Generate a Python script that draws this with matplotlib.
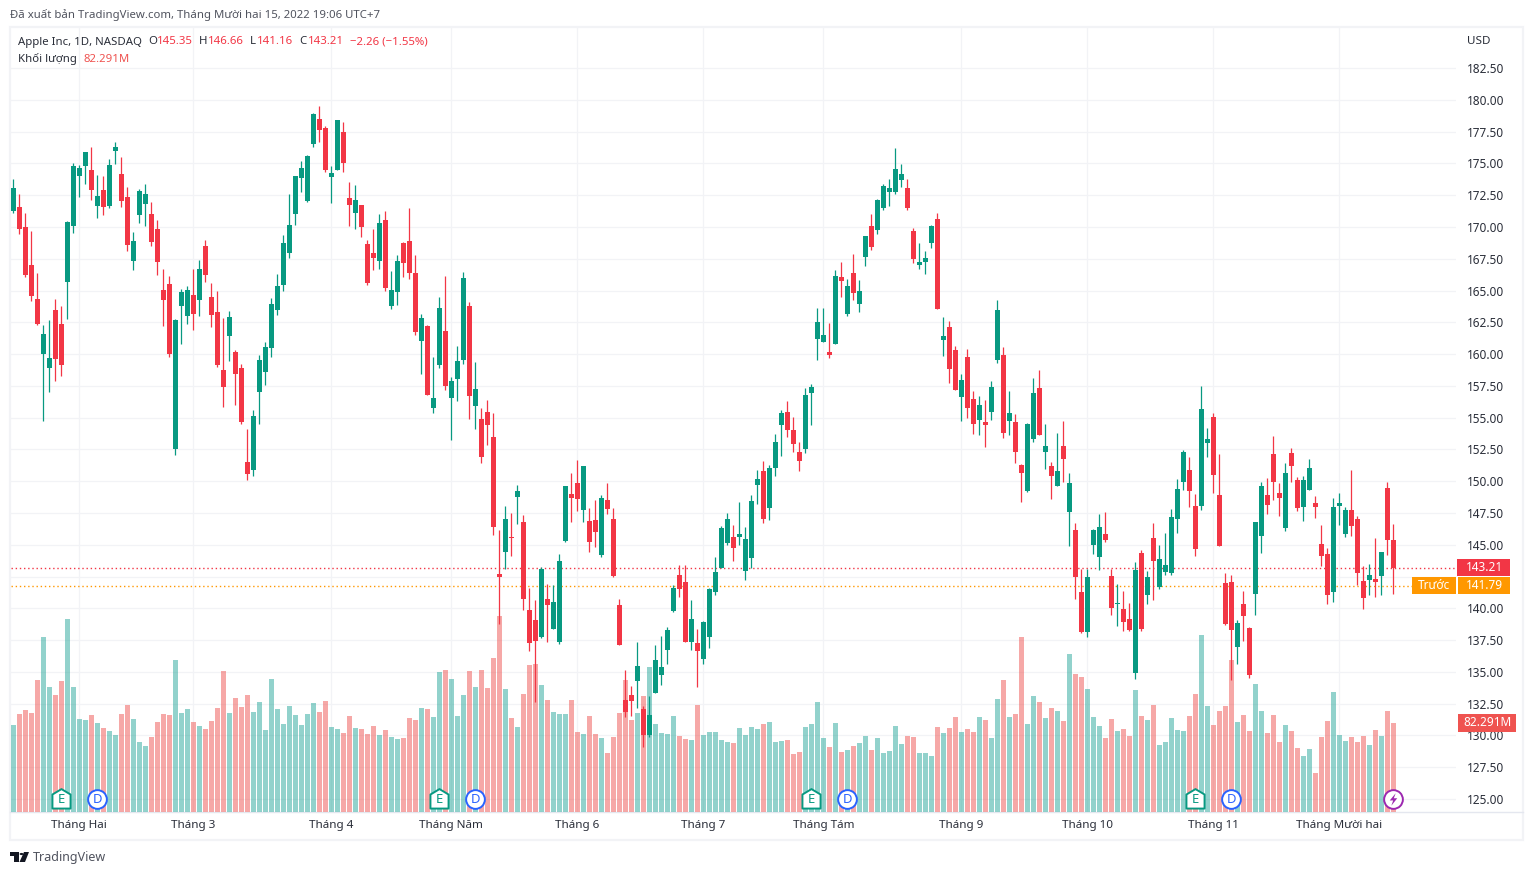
# -*- coding: utf-8 -*-
import numpy as np
import matplotlib.pyplot as plt
from matplotlib.patches import Rectangle, Polygon, Circle
from matplotlib.path import Path

plt.rcParams['font.family'] = ['Noto Sans', 'DejaVu Sans']

W = 1533
H = 875

up = '#089981'
down = '#f23645'
up_v = '#26a69a'
down_v = '#ef5350'
grid_c = '#f2f3f6'
dark = '#2a2e39'

# open, high, low, close
ohlc = [
[171.29,173.80,171.13,173.07],[171.57,172.62,169.48,169.82],[170.00,171.13,166.05,166.20],[167.04,169.71,164.17,164.55],
[164.37,166.41,162.30,162.35],[160.00,162.33,154.73,161.59],[158.90,162.72,157.00,159.73],[163.50,164.37,157.87,159.60],
[162.40,163.82,158.27,159.13],[165.70,170.45,162.80,170.40],[170.11,175.06,169.56,174.82],[173.98,174.90,172.39,174.67],
[174.77,175.90,173.41,175.90],[174.48,176.32,172.15,172.88],[171.68,174.12,170.74,172.47],[172.94,174.04,170.97,171.60],
[171.68,175.37,171.52,174.90],[176.00,176.68,174.98,176.32],[174.20,175.53,171.60,172.07],[172.39,173.15,168.09,168.61],
[167.36,169.64,166.65,168.90],[170.97,172.96,170.34,172.86],[171.84,173.41,170.11,172.62],[171.05,171.97,168.53,168.85],
[169.87,170.58,166.26,167.28],[165.05,166.73,162.20,164.24],[165.55,166.15,159.76,160.00],[152.50,162.77,152.06,162.72],
[163.77,165.15,160.83,164.87],[162.98,165.39,162.41,165.08],[164.69,166.68,161.93,163.14],[164.29,167.43,162.98,166.68],
[168.54,169.00,165.68,166.20],[164.50,165.63,162.12,163.11],[163.35,165.00,159.00,159.16],[158.79,162.85,155.83,157.40],
[161.41,163.43,159.45,162.96],[160.20,160.36,156.00,158.42],[158.95,159.26,154.50,154.65],[151.48,154.13,150.09,150.56],
[150.88,155.57,150.41,155.10],[157.00,159.93,154.50,159.54],[158.57,160.95,157.60,160.56],[160.46,164.41,159.75,163.97],
[163.44,166.32,163.05,165.38],[165.41,169.39,164.94,168.73],[167.92,172.61,167.60,170.15],[170.99,174.05,170.20,174.03],
[173.82,175.20,172.72,174.63],[172.06,175.68,172.00,175.60],[176.57,178.95,176.33,178.87],[178.51,179.53,176.73,177.64],
[177.80,177.96,174.37,174.52],[173.95,174.81,171.93,174.26],[174.45,178.43,174.45,178.43],[177.48,178.27,174.37,175.00],
[172.30,173.55,170.12,171.75],[171.07,173.32,169.81,172.14],[171.75,171.75,169.18,170.04],[168.68,169.00,165.46,165.62],
[167.97,169.86,166.64,167.60],[167.29,171.04,166.72,170.31],[170.57,171.28,165.00,165.22],[163.81,166.53,163.57,165.07],
[164.91,167.82,163.89,167.35],[168.76,168.81,166.09,167.14],[168.92,171.51,165.88,166.35],[166.40,167.82,161.48,161.71],
[161.06,163.15,158.46,162.87],[162.24,162.26,156.76,156.76],[155.79,159.80,155.40,156.58],[159.17,164.52,158.94,163.65],
[161.84,166.17,157.20,157.52],[156.58,158.23,153.28,157.91],[158.07,160.66,156.34,159.49],[159.56,166.48,159.25,166.01],
[163.81,164.07,154.93,156.68],[155.95,159.41,154.14,157.28],[154.92,155.76,151.46,151.93],[155.47,156.41,152.88,154.45],
[153.51,155.39,145.80,146.43],[142.74,146.20,138.80,142.50],[144.47,148.08,143.13,147.06],[145.57,147.53,144.15,145.52],
[148.79,149.73,146.67,149.26],[146.83,147.38,139.91,140.77],[139.91,141.64,136.61,137.24],[139.12,140.69,132.63,137.47],
[137.71,143.29,137.63,143.13],[140.77,141.95,137.32,140.30],[138.34,141.80,138.34,140.54],[137.32,144.31,137.16,143.76],
[145.33,149.66,145.25,149.66],[149.03,150.68,146.83,148.71],[149.89,151.70,147.69,148.63],[147.77,151.23,146.83,151.23],
[146.90,147.93,144.47,145.25],[146.98,148.55,144.86,146.04],[144.23,148.95,144.07,148.71],[148.55,149.89,147.43,147.85],
[147.06,147.93,142.50,142.58],[140.30,140.77,137.08,137.08],[132.83,135.15,131.42,131.81],[133.15,133.86,131.50,132.68],
[134.25,137.32,132.13,135.44],[132.05,132.34,129.06,130.00],[130.00,133.08,129.85,131.58],[133.31,137.08,133.31,135.90],
[134.72,137.79,133.94,135.35],[136.76,138.57,135.66,138.26],[139.83,141.87,139.75,141.64],[142.66,143.45,140.93,141.56],
[142.11,143.45,137.34,137.39],[137.39,140.69,136.69,139.20],[137.24,138.34,133.78,136.61],[135.98,139.04,135.66,138.89],
[137.71,141.59,136.92,141.56],[141.25,144.07,141.09,142.90],[143.21,146.51,143.16,146.35],[145.18,147.50,145.00,147.04],
[145.65,146.59,143.76,144.78],[145.65,148.40,145.00,145.88],[142.92,146.43,142.27,145.49],[144.00,148.95,143.21,148.48],
[149.70,150.90,148.20,150.19],[150.82,151.60,146.70,147.00],[147.88,151.29,146.95,151.05],[151.05,153.73,150.42,153.10],
[154.43,155.61,151.99,155.38],[155.45,156.32,153.49,154.04],[154.04,155.06,152.31,152.94],[152.31,153.10,150.82,151.60],
[152.55,157.34,152.23,156.79],[156.95,157.66,154.43,157.42],[161.19,163.63,159.54,162.53],[160.96,163.63,160.96,161.51],
[160.17,162.45,159.70,159.93],[160.80,166.62,160.80,166.15],[166.07,167.24,164.49,165.75],[163.16,165.91,163.00,165.36],
[166.38,167.87,164.25,164.83],[163.94,165.83,163.31,164.97],[167.64,169.31,166.93,169.29],[170.07,171.02,168.19,168.42],
[169.76,172.20,169.45,172.12],[171.49,173.38,171.33,173.22],[172.75,173.77,171.65,173.06],[172.75,176.20,172.59,174.55],
[173.69,174.95,173.14,174.16],[173.06,173.77,171.33,171.49],[169.68,169.92,167.17,167.48],[167.01,168.74,166.69,167.24],
[167.24,168.11,166.30,167.56],[168.74,170.15,168.35,170.07],[170.62,171.10,163.55,163.55],[161.11,162.90,159.85,161.42],
[162.13,162.60,157.72,158.82],[160.32,160.63,157.17,157.17],[156.62,158.42,154.73,157.95],[159.76,160.39,154.97,155.75],
[156.46,157.09,153.71,154.49],[154.81,156.69,153.63,155.99],[154.65,156.38,152.69,154.42],[155.44,157.87,154.81,157.40],
[159.52,164.24,159.29,163.45],[159.92,160.55,153.39,153.79],[154.73,157.09,153.63,155.36],[154.65,155.28,151.43,152.29],
[151.27,151.35,148.36,150.64],[149.23,154.55,149.15,154.49],[153.31,158.11,153.08,156.93],[157.32,158.74,153.63,153.63],
[152.29,154.49,150.96,152.76],[151.19,151.51,148.60,150.41],[149.62,153.79,149.62,150.80],[152.76,154.73,149.94,151.74],
[147.58,150.64,144.90,149.86],[146.16,146.71,140.74,142.47],[141.29,143.10,138.07,138.14],[138.14,143.10,137.75,142.47],
[144.98,146.24,144.28,146.16],[144.04,147.42,143.02,146.40],[145.85,147.58,145.22,145.38],[142.55,143.10,139.48,140.03],
[140.35,141.92,138.62,140.42],[139.95,141.37,138.22,138.93],[139.17,140.42,138.22,138.30],[134.92,143.65,134.45,143.02],
[144.35,144.59,138.22,138.38],[141.05,142.94,140.35,142.47],[145.53,146.71,140.66,143.73],[141.68,144.98,141.52,143.88],
[142.90,145.90,142.64,143.38],[142.80,147.83,142.64,147.20],[147.05,150.19,145.95,149.40],[149.95,152.44,149.33,152.31],
[150.90,151.92,147.99,149.25],[148.07,149.01,144.14,144.69],[148.07,157.50,147.75,155.69],[153.02,154.20,151.92,153.33],
[155.06,155.38,149.06,150.50],[148.93,152.16,144.92,144.92],[142.02,142.80,138.71,138.79],[142.09,142.64,134.40,138.32],
[136.99,139.11,135.65,138.87],[140.37,141.39,137.46,139.42],[138.48,138.56,134.55,134.78],[141.15,146.81,139.50,146.81],
[145.71,149.93,144.37,149.64],[148.93,150.27,147.41,148.15],[152.16,153.57,148.54,149.95],[149.09,149.88,147.28,148.70],
[146.34,151.45,146.10,150.66],[152.23,152.63,149.95,151.21],[150.11,150.35,147.68,147.91],[147.99,150.43,146.89,150.11],
[149.33,151.76,149.33,151.06],[148.30,148.85,147.12,147.99],[145.08,146.57,143.35,144.14],[144.30,144.77,140.37,141.07],
[141.31,148.70,140.52,147.99],[148.07,149.09,146.57,148.30],[145.87,147.99,145.63,147.75],[147.75,150.90,145.71,146.50],
[147.05,147.28,141.86,142.80],[142.17,143.35,139.97,140.84],[142.25,143.51,141.07,142.64],[142.33,145.55,140.92,142.09],
[142.57,144.45,141.07,144.45],[149.48,149.95,144.22,145.40],[145.35,146.66,141.16,143.21],
]

# volume, millions
vol = [
80.4,90.6,94.3,91.5,122.0,161.8,115.6,108.2,121.1,178.4,115.6,86.0,85.1,89.7,82.3,77.7,74.9,71.2,90.6,98.9,
86.0,64.7,61.0,69.3,83.2,90.6,89.7,140.5,91.5,95.2,83.2,79.5,76.7,84.1,96.2,130.4,91.5,105.4,97.1,108.2,
92.5,101.7,75.8,123.0,95.2,81.4,98.0,89.7,80.4,90.6,100.8,92.5,102.6,78.6,76.7,73.0,88.8,77.7,76.7,72.1,
79.5,71.2,75.8,69.3,67.5,68.4,86.9,85.1,96.2,95.2,87.8,129.4,131.3,123.0,88.8,108.2,130.4,115.6,131.3,114.6,
142.4,181.2,113.7,86.9,78.6,109.1,135.9,136.8,117.4,103.6,92.5,90.6,90.6,103.6,74.0,72.1,88.8,72.1,68.4,54.6,
69.3,91.5,122.0,85.1,91.5,107.3,134.1,81.4,73.0,72.1,88.8,70.3,67.5,66.6,98.9,71.2,74.0,74.0,66.6,64.7,
63.8,77.7,71.2,78.6,76.7,81.4,83.2,64.7,65.6,66.6,53.6,55.5,78.6,81.4,101.7,68.4,60.1,82.3,55.5,57.3,
61.0,63.8,70.3,57.3,68.4,54.6,56.4,79.5,62.9,70.3,69.3,54.6,54.6,51.8,78.6,73.0,77.7,87.8,74.0,76.7,
74.0,87.8,85.1,68.4,104.5,122.0,87.8,90.6,161.8,81.4,107.3,101.7,86.9,96.2,93.4,84.1,146.1,127.6,124.8,113.7,
87.8,79.5,68.4,86.0,74.9,76.7,70.3,112.8,88.8,85.1,98.9,61.9,64.7,86.9,75.8,74.9,88.8,109.1,163.7,98.0,
80.4,93.4,98.0,140.5,83.2,89.7,74.9,118.3,93.4,73.0,89.7,64.7,80.4,74.9,59.2,51.8,58.2,36.1,69.3,84.1,
111.0,71.2,65.6,69.3,64.7,70.3,61.9,75.8,70.3,93.4,82.291,
]

df = np.array(ohlc)
o, h, l, c = df[:,0], df[:,1], df[:,2], df[:,3]
n = np.arange(len(df))
vol = np.array(vol)
is_up = c >= o
col = np.where(is_up, up, down)
vcol = np.where(is_up, up_v, down_v)

months = [11,30,53,73,94,115,135,158,179,200,221]
month_names = ['Tháng Hai','Tháng 3','Tháng 4','Tháng Năm','Tháng 6','Tháng 7',
               'Tháng Tám','Tháng 9','Tháng 10','Tháng 11','Tháng Mười hai']
prices = np.arange(125, 183, 2.5)

fig = plt.figure(figsize=(W/100, H/100), dpi=100)

# chart frame
fig.add_artist(Rectangle((10/W, 1-840/H), 1513/W, 813/H, transform=fig.transFigure,
                         fc='white', ec=grid_c, lw=1.6, zorder=-5))
fig.add_artist(plt.Line2D([10/W, 1523/W], [1-812/H, 1-812/H], color='#e4e7ef', lw=1, zorder=-4))

rect = [11/W, 1-812/H, 1445/W, 784/H]
ax = fig.add_axes(rect)
ax.patch.set_visible(False)
ax.set_xlim(-0.38, 240.45)
ax.set_ylim(123.98, 185.66)
for s in ax.spines.values():
    s.set_visible(False)
ax.set_xticks(months)
ax.set_xticklabels(month_names, fontsize=8.4, color=dark)
ax.yaxis.tick_right()
ax.set_yticks(prices)
ax.set_yticklabels(['' if p == 142.5 else '%.2f' % p for p in prices], fontsize=8.5, color=dark)
ax.tick_params(axis='both', length=0)
ax.tick_params(axis='x', pad=6)
ax.tick_params(axis='y', pad=7.5)
ax.grid(True, color=grid_c, lw=0.9)
ax.set_axisbelow(True)

# volume under the candles
ax_v = fig.add_axes(rect, sharex=ax)
ax_v.patch.set_visible(False)
ax_v.set_ylim(0, 724.9)
ax_v.axis('off')
ax_v.bar(n, vol, width=0.8, color=vcol, alpha=0.5, lw=0)

# candles
ax_c = fig.add_axes(rect, sharex=ax)
ax_c.patch.set_visible(False)
ax_c.set_ylim(ax.get_ylim())
ax_c.axis('off')
ax_c.hlines(143.21, -0.38, 240.45, color=down, lw=1.0, linestyles=(0, (1, 2)), zorder=1)
ax_c.hlines(141.79, -0.38, 240.45, color='#ff9800', lw=1.0, linestyles=(0, (1, 2)), zorder=1)
ax_c.vlines(n, l, h, color=col, lw=0.9, zorder=2)
body = np.maximum(np.abs(c-o), 0.06)
ax_c.bar(n, body, bottom=np.minimum(o, c), width=0.8, color=col, lw=0, zorder=3)

# earnings / dividends / split marks
house = Path([(-1,-1),(1,-1),(1,0.55),(0,1.15),(-1,0.55),(-1,-1)], closed=True)
bolt = Path([(0.35,1),(-0.6,-0.15),(-0.05,-0.15),(-0.35,-1),(0.6,0.2),(0.05,0.2),(0.35,1)], closed=True)
for i in [8, 71, 133, 197]:
    ax_c.plot(i, 125.0, marker=house, ms=15, mfc='white', mec=up, mew=1.4, zorder=5)
    ax_c.text(i, 125.0, 'E', color=up, fontsize=9.4, ha='center', va='center', zorder=6)
for i in [14, 77, 139, 203]:
    ax_c.plot(i, 125.0, marker='o', ms=13.5, mfc='white', mec='#2962ff', mew=1.4, zorder=5)
    ax_c.text(i, 125.0, 'D', color='#2962ff', fontsize=9.4, ha='center', va='center', zorder=6)
ax_c.plot(230, 125.0, marker='o', ms=13.5, mfc='white', mec='#9c27b0', mew=1.4, zorder=5)
ax_c.plot(230, 125.0, marker=bolt, ms=9, mfc='#9c27b0', mec='#9c27b0', mew=0, zorder=6)

# right hand labels
tr = ax_c.get_yaxis_transform()
tr_v = ax_v.get_yaxis_transform()
for x0, x1, y, fc in [(1457, 1510, 143.21, down), (1412, 1456, 141.79, '#ff9800'), (1458, 1510, 141.79, '#ff9800')]:
    ax_c.add_patch(Rectangle(((x0-11)/1445.0, y-0.68), (x1-x0)/1445.0, 1.36, transform=tr,
                             fc=fc, ec='none', zorder=9, clip_on=False))
ax_c.add_patch(Rectangle(((1458-11)/1445.0, 82.291-8.3), 58/1445.0, 16.6, transform=tr_v,
                         fc=down_v, ec='none', zorder=9, clip_on=False))
ax_c.text((1484-11)/1445.0, 143.21, '143.21', transform=tr, color='white', fontsize=8.5,
          ha='center', va='center', zorder=10, clip_on=False)
ax_c.text((1434-11)/1445.0, 141.79, 'Trước', transform=tr, color='white', fontsize=8.5,
          ha='center', va='center', zorder=10, clip_on=False)
ax_c.text((1484-11)/1445.0, 141.79, '141.79', transform=tr, color='white', fontsize=8.5,
          ha='center', va='center', zorder=10, clip_on=False)
ax_c.text((1487-11)/1445.0, 82.291, '82.291M', transform=tr_v, color='white', fontsize=8.5,
          ha='center', va='center', zorder=10, clip_on=False)

fig.text(1467/W, 1-41/H, 'USD', fontsize=8.4, color=dark, va='center')

# header and legend text
fig.text(10/W, 1-15/H, 'Đã xuất bản TradingView.com, Tháng Mười hai 15, 2022 19:06 UTC+7',
         fontsize=8.2, color='#50535e', va='center')
legend = [(18,'Apple Inc, 1D, NASDAQ',dark),(148,'O',dark),(157,'145.35',down),(199,'H',dark),(208,'146.66',down),
          (250,'L',dark),(257,'141.16',down),(299,'C',dark),(308,'143.21',down),(350,'−2.26 (−1.55%)',down)]
for x, s, cl in legend:
    fig.text(x/W, 1-42/H, s, fontsize=8.2, color=cl, va='center')
fig.text(18/W, 1-59/H, 'Khối lượng', fontsize=8.2, color=dark, va='center')
fig.text(84/W, 1-59/H, '82.291M', fontsize=8.2, color=down_v, va='center')

# logo
def pts(lst):
    return [(x/W, 1-y/H) for x, y in lst]
k = '#131722'
fig.add_artist(Polygon(pts([(10,852),(19,852),(19,862),(14,862),(14,856),(10,856)]), transform=fig.transFigure, fc=k, ec='none'))
fig.add_artist(Polygon(pts([(24,852),(29,852),(25,862),(19.5,862)]), transform=fig.transFigure, fc=k, ec='none'))
fig.add_artist(Circle((21.5/W, 1-854/H), 1.9/W, transform=fig.transFigure, fc=k, ec='none'))
fig.text(33/W, 1-857/H, 'TradingView', fontsize=9.0, color='#50535e', va='center')

fig.savefig('out.png', dpi=100)
